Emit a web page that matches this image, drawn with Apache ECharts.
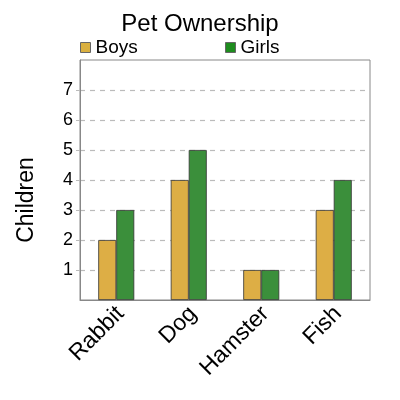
<!DOCTYPE html>
<html><head><meta charset="utf-8">
<script src="https://cdn.jsdelivr.net/npm/echarts@6/dist/echarts.min.js"></script>
<style>html,body{margin:0;padding:0;background:#fff}#c{width:400px;height:400px}</style>
</head><body><div id="c"></div>
<script>
const categories = ["Rabbit", "Dog", "Hamster", "Fish"];
const boys = [2, 4, 1, 3];
const girls = [3, 5, 1, 4];
const yTicks = [1, 2, 3, 4, 5, 6, 7];

const FONT = "Liberation Sans, Arial, sans-serif";
const chart = echarts.init(document.getElementById('c'), null, {renderer: 'canvas'});
chart.setOption({
  animation: false,
  backgroundColor: '#fff',
  title: {text: 'Pet Ownership', left: 'center', top: 12, padding: 0,
    textStyle: {fontFamily: FONT, fontSize: 24, fontWeight: 'normal', color: '#000'}},
  legend: [
    {data: [{name: 'Boys', itemStyle: {color: '#DAB040', borderColor: '#666', borderWidth: 1}}],
     left: 80, top: 38, padding: 0, itemWidth: 10, itemHeight: 10, icon: 'rect',
     textStyle: {fontFamily: FONT, fontSize: 19, color: '#000'}},
    {data: [{name: 'Girls', itemStyle: {color: '#1E8C1E', borderColor: '#666', borderWidth: 1}}],
     left: 225, top: 38, padding: 0, itemWidth: 10, itemHeight: 10, icon: 'rect',
     textStyle: {fontFamily: FONT, fontSize: 19, color: '#000'}}
  ],
  grid: {left: 80, right: 30, top: 60, bottom: 100, show: true, borderColor: '#888', borderWidth: 1, backgroundColor: 'transparent'},
  xAxis: {type: 'category', data: categories,
    axisLine: {show: true, lineStyle: {color: '#888'}}, axisTick: {show: false},
    axisLabel: {rotate: 45, fontFamily: FONT, fontSize: 23, lineHeight: 12, color: '#000', margin: 6, interval: 0, verticalAlign: 'top'}},
  yAxis: {type: 'value', min: 0, max: 8, interval: 1, name: 'Children', nameLocation: 'middle', nameGap: 42,
    nameTextStyle: {fontFamily: FONT, fontSize: 23, color: '#000', padding: [0, 40, 0, 0]},
    axisLine: {show: true, lineStyle: {color: '#888'}},
    axisTick: {show: true, length: 4, lineStyle: {color: '#bbb'}, customValues: yTicks},
    axisLabel: {fontFamily: FONT, fontSize: 18, color: '#000', margin: 7, customValues: yTicks},
    splitLine: {show: true, lineStyle: {color: '#bbb', type: [5, 5], width: 1.2}}
  },
  series: [
    {name: 'Boys', type: 'bar', data: boys, barWidth: 18, barGap: '0%',
     itemStyle: {color: '#DDAE45', borderColor: '#333', borderWidth: 0.8}},
    {name: 'Girls', type: 'bar', data: girls, barWidth: 18,
     itemStyle: {color: '#3B8F3B', borderColor: '#333', borderWidth: 0.8}}
  ]
});
</script></body></html>
